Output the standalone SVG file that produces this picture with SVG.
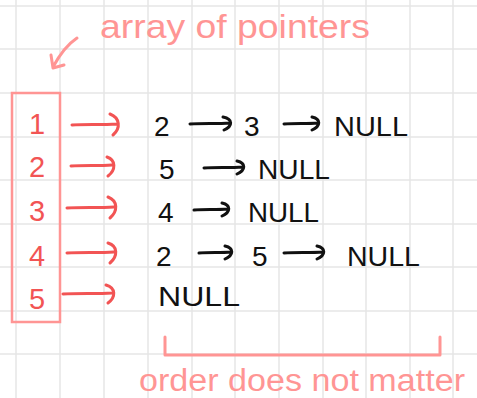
<svg xmlns="http://www.w3.org/2000/svg" width="477" height="398" viewBox="0 0 477 398">
<style>
.grid{stroke:#e6e6e6;stroke-width:1.5}
.red{fill:none;stroke:#f25454;stroke-width:3;stroke-linecap:round;stroke-linejoin:round}
.blk{fill:none;stroke:#111;stroke-width:3;stroke-linecap:round;stroke-linejoin:round}
.pk{fill:none;stroke:#ff9594;stroke-width:3;stroke-linecap:round;stroke-linejoin:round}
.num{font-family:"Liberation Sans",Arial,sans-serif;font-size:29px;fill:#f25454;text-anchor:middle}
.val{font-family:"Liberation Sans",Arial,sans-serif;font-size:28px;fill:#111}
.note{font-family:"Liberation Sans",Arial,sans-serif;fill:#ff9594}
</style>
<rect width="477" height="398" fill="#fff"/>
<g id="grid">
<path class="grid" d="M16,0V398M60,0V398M104,0V398M148,0V398M192,0V398M235,0V398M279,0V398M323,0V398M366,0V398M410,0V398M453,0V398M0,6H477M0,49H477M0,93H477M0,137H477M0,180H477M0,224H477M0,267H477M0,311H477M0,354H477"/>
</g>
<g id="title">
<text class="note" x="100" y="38" font-size="34" textLength="270" lengthAdjust="spacingAndGlyphs">array of pointers</text>
</g>
<g id="array">
<rect x="12" y="93" width="48" height="229" fill="none" stroke="#ff9594" stroke-width="2.5"/>
<text class="num" x="37" y="134">1</text>
<text class="num" x="37" y="177">2</text>
<text class="num" x="37" y="221">3</text>
<text class="num" x="37" y="266">4</text>
<text class="num" x="37" y="309">5</text>
</g>
<g id="row1">
<text class="val" x="154" y="136">2</text>
<text class="val" x="244" y="136">3</text>
<text class="val" x="334" y="136" textLength="74" lengthAdjust="spacingAndGlyphs">NULL</text>
</g>
<g id="row2">
<text class="val" x="159" y="179">5</text>
<text class="val" x="258" y="179" textLength="72" lengthAdjust="spacingAndGlyphs">NULL</text>
</g>
<g id="row3">
<text class="val" x="158" y="222">4</text>
<text class="val" x="248" y="222" textLength="71" lengthAdjust="spacingAndGlyphs">NULL</text>
</g>
<g id="row4">
<text class="val" x="156" y="266">2</text>
<text class="val" x="252" y="266">5</text>
<text class="val" x="347" y="266" textLength="73" lengthAdjust="spacingAndGlyphs">NULL</text>
</g>
<g id="row5">
<text class="val" x="158" y="306" textLength="82" lengthAdjust="spacingAndGlyphs">NULL</text>
</g>
<g id="connectors">
<path class="pk" d="M77,38 C68,44 60,54 53,67 M51,55 L53,68 L64,65"/>
<path class="red" d="M72,125 C85,124 100,125 117,124 M110,114 C120,118 121,128 113,135"/>
<path class="red" d="M71,166 C85,165 98,166 112,165 M107,157 C116,160 116,170 108,176"/>
<path class="red" d="M67,208 C82,207 98,208 114,207 M108,197 C118,201 118,211 110,218"/>
<path class="red" d="M67,253 C82,252 98,253 114,252 M108,243 C118,246 118,256 110,263"/>
<path class="red" d="M63,294 C80,293 96,294 112,293 M106,285 C116,288 116,297 108,303"/>
<path class="blk" d="M190,124 C204,123 216,124 230,123 M223,117 C233,119 233,126 224,130"/>
<path class="blk" d="M284,124 C296,123 306,124 318,123 M312,117 C321,119 321,126 312,130"/>
<path class="blk" d="M204,168 C216,167 228,168 243,167 M237,161 C246,163 246,170 237,174"/>
<path class="blk" d="M194,210 C205,209 215,210 228,209 M222,203 C231,205 231,212 222,216"/>
<path class="blk" d="M199,253 C210,252 220,253 231,252 M225,246 C234,248 234,255 225,259"/>
<path class="blk" d="M284,253 C296,252 310,253 323,252 M317,246 C326,248 326,255 317,259"/>
<path class="pk" d="M165,337 V355 H440 V337"/>
</g>
<g id="footnote">
<text class="note" x="139" y="391" font-size="31" textLength="326" lengthAdjust="spacingAndGlyphs">order does not matter</text>
</g>
</svg>
